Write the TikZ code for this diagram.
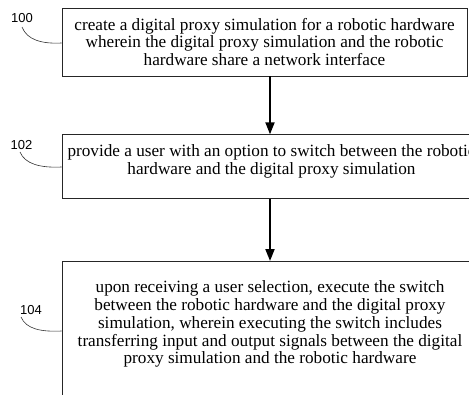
\documentclass[tikz,border=0pt]{standalone}
\usepackage{fontspec}
\setmainfont{Liberation Serif}
\newfontfamily\refnumfont{Liberation Sans}
\usetikzlibrary{arrows.meta}

\begin{document}
\begin{tikzpicture}[x=1pt, y=-1pt,
  stepbox/.style={draw=black!85, line width=0.8pt, inner sep=0pt},
  steptext/.style={align=center, inner sep=0pt,
    font=\fontsize{17.2}{17.9}\selectfont},
  refnum/.style={font=\refnumfont\fontsize{13}{13}\selectfont, inner sep=0pt},
  leader/.style={draw=black!80, line width=0.6pt},
  flow/.style={-{Triangle[length=12pt, width=9pt]}, line width=1.8pt}]

\useasboundingbox (0,0) rectangle (469,394); %% page size
\clip (0,0) rectangle (469,394);

%% boxes
\node[stepbox, minimum width=405pt, minimum height=68pt] (s100) at (264.5,42) {};
\node[stepbox, minimum width=416pt, minimum height=63.5pt] (s102) at (270,166.5) {};
\node[stepbox, minimum width=416pt, minimum height=160pt, anchor=north] (s104) at (270,261) {};

\node[steptext] (t100) at (s100) {create a digital proxy simulation for a robotic hardware\\
wherein the digital proxy simulation and the robotic\\
hardware share a network interface};
\node[steptext] (t102) at (271.5,161.5) {provide a user with an option to switch between the robotic\\
hardware and the digital proxy simulation};
\node[steptext] (t104) at (270,324) {upon receiving a user selection, execute the switch\\
between the robotic hardware and the digital proxy\\
simulation, wherein executing the switch includes\\
transferring input and output signals between the digital\\
proxy simulation and the robotic hardware};

%% reference numerals
\node[refnum] (n100) at (22,18) {100};
\node[refnum] (n102) at (21.5,145) {102};
\node[refnum] (n104) at (31,310) {104};

\draw[leader] (22,27) .. controls (27,40) and (42,44) .. (s100.west |- 0,43);
\draw[leader] (20,152) .. controls (25,164) and (40,168) .. (s102.west |- 0,167);
\draw[leader] (21,317) .. controls (26,329) and (41,332) .. (s104.west |- 0,331);

%% flow
\draw[flow] (s100.south -| s102.north) -- (s102.north);
\draw[flow] (s102.south) -- (s104.north);

\end{tikzpicture}
\end{document}
